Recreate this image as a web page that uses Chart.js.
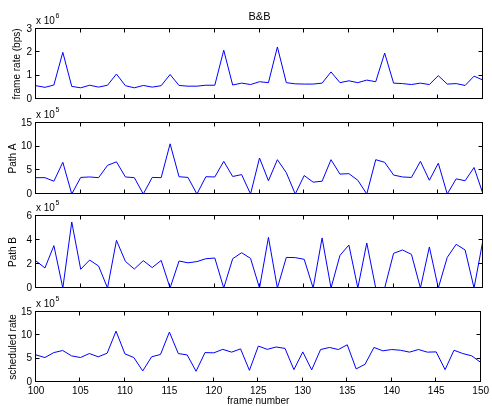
<!DOCTYPE html>
<html>
<head>
<meta charset="utf-8">
<script src="https://cdn.jsdelivr.net/npm/chart.js@4.4.1/dist/chart.umd.min.js"></script>
<style>
  html, body { margin: 0; padding: 0; background: #fff; }
  #fig { position: relative; width: 492px; height: 406px; background: #fff; }
  #fig canvas { position: absolute; left: 0; top: 0; }
</style>
</head>
<body>
<div id="fig">
  <canvas id="p1" width="492" height="406"></canvas>
  <canvas id="p2" width="492" height="406"></canvas>
  <canvas id="p3" width="492" height="406"></canvas>
  <canvas id="p4" width="492" height="406"></canvas>
</div>
<script>
// frame numbers (x axis)
const frames = [100, 101, 102, 103, 104, 105, 106, 107, 108, 109,
  110, 111, 112, 113, 114, 115, 116, 117, 118, 119,
  120, 121, 122, 123, 124, 125, 126, 127, 128, 129,
  130, 131, 132, 133, 134, 135, 136, 137, 138, 139,
  140, 141, 142, 143, 144, 145, 146, 147, 148, 149, 150];
const xTicks = [100, 105, 110, 115, 120, 125, 130, 135, 140, 145, 150];

// frame rate, in units of 10^6 bps
const frameRate = [0.57, 0.50, 0.60, 2.00, 0.54, 0.48, 0.59, 0.51, 0.59, 1.07,
  0.57, 0.48, 0.58, 0.51, 0.57, 1.05, 0.58, 0.55, 0.55, 0.59,
  0.59, 2.09, 0.60, 0.68, 0.62, 0.74, 0.70, 2.23, 0.70, 0.65,
  0.64, 0.64, 0.68, 1.16, 0.70, 0.78, 0.70, 0.81, 0.74, 1.97,
  0.68, 0.66, 0.62, 0.68, 0.62, 1.00, 0.64, 0.66, 0.58, 0.98, 0.81];

// path A, in units of 10^5
const pathA = [3.45, 3.45, 2.7, 6.7, 0, 3.5, 3.6, 3.45, 6.05, 6.8,
  3.6, 3.45, 0, 3.5, 3.45, 10.6, 3.65, 3.5, 0, 3.65,
  3.6, 6.9, 3.7, 4.1, 0, 7.6, 2.8, 7.25, 4.5, 0,
  3.9, 2.5, 2.7, 7.25, 4.2, 4.3, 2.9, 0, 7.25, 6.7,
  4.0, 3.6, 3.5, 6.9, 2.9, 6.5, 0, 3.2, 2.8, 5.6, 0];

// path B, in units of 10^5
const pathB = [2.25, 1.67, 3.53, 0, 5.5, 1.56, 2.33, 1.83, 0, 3.97,
  2.22, 1.58, 2.28, 1.7, 2.3, 0, 2.25, 2.1, 2.2, 2.44,
  2.5, 0, 2.44, 2.94, 2.47, 0, 4.22, 0, 2.55, 2.53,
  2.39, 0, 4.17, 0, 2.72, 3.58, 0, 3.75, 0, 0,
  2.89, 3.17, 2.8, 0, 3.42, 0, 2.55, 3.64, 3.17, 0, 4.0];

// scheduled rate, in units of 10^5
const scheduled = [5.8, 5.24, 6.3, 6.75, 5.6, 5.24, 6.1, 5.4, 6.17, 10.9,
  6.03, 5.24, 2.37, 5.4, 5.9, 10.7, 6.1, 5.8, 2.3, 6.3,
  6.25, 7.0, 6.4, 7.1, 2.5, 7.7, 7.0, 7.5, 7.2, 2.65,
  6.45, 2.6, 6.96, 7.4, 6.96, 7.97, 2.8, 3.8, 7.4, 6.68,
  6.96, 6.8, 6.4, 6.96, 6.4, 6.45, 2.65, 6.8, 6.1, 5.6, 4.2];

const yTicks1 = [0, 1, 2, 3];
const yTicks2 = [0, 5, 10, 15];
const yTicks3 = [0, 2, 4, 6];
const yTicks4 = [0, 5, 10, 15];

Chart.defaults.font.family = '"Liberation Sans", Arial, Helvetica, sans-serif';
Chart.defaults.font.size = 10;
Chart.defaults.color = '#000';

const FONT = '"Liberation Sans", Arial, Helvetica, sans-serif';

// box, inward ticks and the MATLAB-like labels
const panelDecor = {
  id: 'panelDecor',
  afterDraw(chart, args, o) {
    const { ctx, chartArea: a, scales } = chart;
    const x0 = Math.round(a.left) - 0.5, x1 = Math.round(a.right) - 0.5;
    const y0 = Math.round(a.top) - 0.5, y1 = Math.round(a.bottom) - 0.5;
    ctx.save();
    ctx.strokeStyle = '#000';
    ctx.lineWidth = 1;
    ctx.strokeRect(x0, y0, x1 - x0, y1 - y0);
    ctx.beginPath();
    xTicks.forEach(v => {
      const px = Math.round(scales.x.getPixelForValue(v)) - 0.5;
      if (px <= x0 + 1 || px >= x1 - 1) return;
      ctx.moveTo(px, y1); ctx.lineTo(px, y1 - 4);
      ctx.moveTo(px, y0); ctx.lineTo(px, y0 + 4);
    });
    o.yTicks.forEach(v => {
      const py = Math.round(scales.y.getPixelForValue(v)) - 0.5;
      if (py <= y0 + 1 || py >= y1 - 1) return;
      ctx.moveTo(x0, py); ctx.lineTo(x0 + 4, py);
      ctx.moveTo(x1, py); ctx.lineTo(x1 - 4, py);
    });
    ctx.stroke();

    ctx.fillStyle = '#000';
    // exponent label
    ctx.font = '10px ' + FONT;
    ctx.textAlign = 'left';
    ctx.textBaseline = 'alphabetic';
    ctx.fillText('x 10', a.left, a.top - 5);
    const w = ctx.measureText('x 10').width;
    ctx.font = '7px ' + FONT;
    ctx.fillText(o.exp, a.left + w + 0.5, a.top - 11);

    // y label
    ctx.font = '10px ' + FONT;
    ctx.save();
    ctx.translate(o.ylabelX, (a.top + a.bottom) / 2);
    ctx.rotate(-Math.PI / 2);
    ctx.textAlign = 'center';
    ctx.fillText(o.ylabel, 0, 0);
    ctx.restore();

    if (o.title) {
      ctx.font = '11px ' + FONT;
      ctx.textAlign = 'center';
      ctx.fillText(o.title, (a.left + a.right) / 2, 20);
    }
    if (o.xlabel) {
      ctx.font = '10px ' + FONT;
      ctx.textAlign = 'center';
      ctx.fillText(o.xlabel, (a.left + a.right) / 2, 404);
    }
    ctx.restore();
  }
};

function makePanel(id, p) {
  const last = !!p.xlabel;
  return new Chart(document.getElementById(id), {
    type: 'line',
    data: {
      datasets: [{
        data: frames.map((f, i) => ({ x: f, y: p.values[i] })),
        borderColor: '#0000ff',
        borderWidth: 1,
        pointRadius: 0,
        tension: 0,
        fill: false
      }]
    },
    options: {
      responsive: false,
      animation: false,
      events: [],
      layout: { padding: { left: 0, right: 9, top: p.top, bottom: last ? 0 : 406 - p.bottom } },
      plugins: {
        legend: { display: false },
        tooltip: { enabled: false },
        panelDecor: { yTicks: p.yTicks, exp: p.exp, ylabel: p.ylabel, ylabelX: p.ylabelX, title: p.title, xlabel: p.xlabel }
      },
      scales: {
        x: {
          type: 'linear', min: 100, max: 150, display: last,
          grid: { display: false, drawTicks: false },
          border: { display: false },
          ticks: { padding: 3, maxRotation: 0, autoSkip: false },
          afterBuildTicks: s => { s.ticks = xTicks.map(v => ({ value: v })); },
          afterFit: s => { s.height = last ? 406 - p.bottom : 0; }
        },
        y: {
          min: 0, max: p.yTicks[p.yTicks.length - 1],
          grid: { display: false, drawTicks: false },
          border: { display: false },
          ticks: { padding: 4 },
          afterBuildTicks: s => { s.ticks = p.yTicks.map(v => ({ value: v })); },
          afterFit: s => { s.width = 36; }
        }
      }
    },
    plugins: [panelDecor]
  });
}

makePanel('p1', { values: frameRate, yTicks: yTicks1, exp: '6', top: 29, bottom: 99,
  ylabel: 'frame rate (bps)', ylabelX: 19.5, title: 'B&B' });
makePanel('p2', { values: pathA, yTicks: yTicks2, exp: '5', top: 123, bottom: 194,
  ylabel: 'Path A', ylabelX: 15.5 });
makePanel('p3', { values: pathB, yTicks: yTicks3, exp: '5', top: 216, bottom: 288,
  ylabel: 'Path B', ylabelX: 16 });
makePanel('p4', { values: scheduled, yTicks: yTicks4, exp: '5', top: 312, bottom: 382,
  ylabel: 'scheduled rate', ylabelX: 15.5, xlabel: 'frame number' });
</script>
</body>
</html>
